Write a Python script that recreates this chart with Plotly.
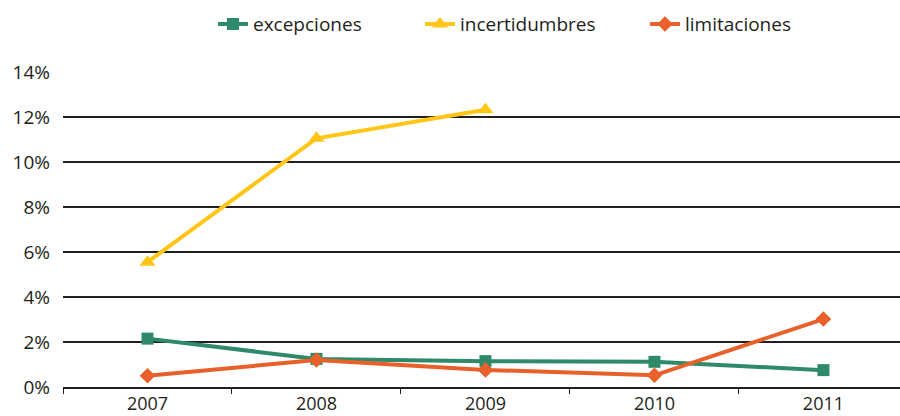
import plotly.graph_objects as go

years = ["2007", "2008", "2009", "2010", "2011"]
excepciones = [2.15, 1.25, 1.15, 1.12, 0.75]
incertidumbres = [5.55, 11.05, 12.32, None, None]
limitaciones = [0.50, 1.20, 0.76, 0.52, 3.02]
y_ticks = [0, 2, 4, 6, 8, 10, 12, 14]
y_labels = [f"{v}%" for v in y_ticks]

FONT = "Open Sans"
TXT = "#231F20"

fig = go.Figure()
fig.add_trace(go.Scatter(x=years, y=excepciones, name="excepciones", mode="lines+markers",
                         line=dict(color="#2E8A69", width=4),
                         marker=dict(symbol="square", size=12, color="#2E8A69"),
                         legend="legend"))
fig.add_trace(go.Scatter(x=years, y=incertidumbres, name="incertidumbres", mode="lines+markers",
                         line=dict(color="#FFC618", width=4),
                         marker=dict(symbol="triangle-up", size=14, color="#FFC618"),
                         legend="legend2"))
fig.add_trace(go.Scatter(x=years, y=limitaciones, name="limitaciones", mode="lines+markers",
                         line=dict(color="#E8612A", width=4),
                         marker=dict(symbol="diamond", size=12, color="#E8612A"),
                         legend="legend3"))

leg_common = dict(orientation="h", xanchor="left", y=1.152, yanchor="middle",
                  font=dict(family=FONT, size=19, color=TXT), itemwidth=30,
                  bgcolor="rgba(0,0,0,0)")

fig.update_layout(
    width=900, height=416,
    margin=dict(l=63, r=0, t=72, b=29),
    paper_bgcolor="white", plot_bgcolor="white",
    font=dict(family=FONT, size=19, color=TXT),
    showlegend=True,
    legend=dict(x=0.1792, **leg_common),
    legend2=dict(x=0.4265, **leg_common),
    legend3=dict(x=0.6953, **leg_common),
    xaxis=dict(type="category", categoryorder="array", categoryarray=years,
               range=[-0.5, 4.453], showgrid=False, zeroline=False, automargin=False,
               showline=True, linecolor="#231F20", linewidth=1.5,
               ticks="outside", tickson="boundaries", ticklen=5, tickcolor="#231F20",
               tickwidth=1.2, ticklabelstandoff=0,
               tickfont=dict(family=FONT, size=18, color=TXT)),
    yaxis=dict(range=[0, 14], tickvals=y_ticks, ticktext=y_labels, automargin=False,
               showgrid=True, gridcolor="#231F20", gridwidth=2,
               zeroline=False, showline=False, ticks="",
               ticklabelstandoff=12,
               tickfont=dict(family=FONT, size=19, color=TXT)),
)

fig.write_html("out.html")
